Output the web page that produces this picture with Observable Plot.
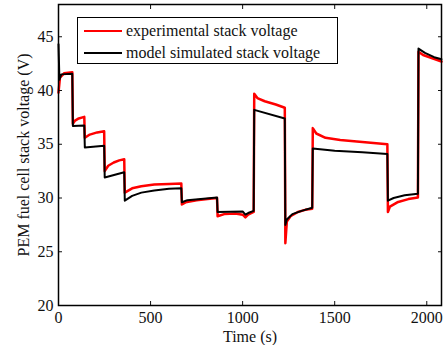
<!DOCTYPE html>
<html>
<head>
<meta charset="utf-8">
<script src="https://cdn.jsdelivr.net/npm/d3@7"></script>
<script src="https://cdn.jsdelivr.net/npm/@observablehq/plot@0.6"></script>
<style>
  html, body { margin: 0; padding: 0; background: #fff; }
  #wrap { position: relative; width: 443px; height: 345px; font-family: "Liberation Serif", "DejaVu Serif", serif; }
  #chart svg, #chart svg text { font-family: "Liberation Serif", "DejaVu Serif", serif !important; }
  #legend { position: absolute; left: 77px; top: 17px; width: 261px; height: 47px; border: 1.5px solid #000; background: #fff; box-sizing: border-box; }
  .row { position: absolute; left: 0; height: 20px; display: flex; align-items: center; font-size: 16px; color: #111; white-space: nowrap; }
  .sw { width: 38px; height: 0; margin-left: 6px; margin-right: 4px; }
</style>
</head>
<body>
<div id="wrap">
  <div id="chart"></div>
  <div id="legend">
    <div class="row" style="top:3px"><span class="sw" style="border-top:2.5px solid #ff0000"></span><span>experimental stack voltage</span></div>
    <div class="row" style="top:25px"><span class="sw" style="border-top:2.5px solid #000"></span><span>model simulated stack voltage</span></div>
  </div>
</div>
<script>
// Experimental stack voltage (red)
const expTime = [0, 8, 30, 75,
  78, 90, 110, 140,
  143, 170, 210, 248,
  251, 270, 300, 330, 357,
  360, 400, 450, 520, 600, 667,
  670, 690, 750, 810, 861,
  864, 900, 960, 1000, 1015, 1030, 1060,
  1063, 1080, 1120, 1180, 1229,
  1232, 1240, 1260, 1300, 1340, 1378,
  1381, 1400, 1450, 1530, 1650, 1786,
  1789, 1800, 1840, 1900, 1952,
  1955, 1980, 2030, 2080];
const expVolt = [39.8, 41.2, 41.6, 41.7,
  36.9, 37.2, 37.4, 37.55,
  35.6, 35.9, 36.1, 36.2,
  32.5, 33.0, 33.3, 33.5, 33.6,
  30.5, 30.9, 31.1, 31.25, 31.3, 31.35,
  29.4, 29.6, 29.8, 29.9, 30.0,
  28.3, 28.5, 28.55, 28.45, 28.2, 28.45, 28.7,
  39.7, 39.3, 39.0, 38.7, 38.4,
  25.8, 27.8, 28.3, 28.7, 28.9, 29.0,
  36.5, 36.0, 35.6, 35.4, 35.2, 35.0,
  28.7, 29.2, 29.6, 29.9, 30.05,
  43.6, 43.3, 43.0, 42.7];

// Model simulated stack voltage (black)
const modTime = [0, 5, 15, 75,
  78, 140,
  143, 248,
  251, 357,
  360, 400, 450, 520, 600, 667,
  670, 700, 861,
  864, 1000, 1015, 1030, 1060,
  1063, 1229,
  1232, 1240, 1270, 1320, 1378,
  1381, 1500, 1650, 1786,
  1789, 1820, 1880, 1952,
  1955, 1990, 2040, 2080];
const modVolt = [44.3, 41.0, 41.5, 41.55,
  36.7, 36.75,
  34.7, 34.86,
  31.9, 32.4,
  29.75, 30.2, 30.5, 30.7, 30.85, 30.9,
  29.6, 29.8, 30.05,
  28.7, 28.75, 28.45, 28.6, 28.8,
  38.2, 37.4,
  27.5, 28.0, 28.5, 28.8, 29.1,
  34.6, 34.4, 34.25, 34.1,
  29.75, 30.0, 30.25, 30.4,
  43.9, 43.5, 43.1, 42.9];

const xTicks = [0, 500, 1000, 1500, 2000];
const yTicks = [20, 25, 30, 35, 40, 45];

const expData = expTime.map((t, i) => ({t, v: expVolt[i]}));
const modData = modTime.map((t, i) => ({t, v: modVolt[i]}));

const chart = Plot.plot({
  width: 443,
  height: 345,
  marginLeft: 58,
  marginRight: 2,
  marginTop: 4,
  marginBottom: 40,
  style: {fontFamily: "Liberation Serif, DejaVu Serif, serif", fontSize: "16px", color: "#111", background: "#fff"},
  x: {domain: [0, 2080]},
  y: {domain: [20, 48]},
  marks: [
    Plot.line(expData, {x: "t", y: "v", stroke: "#ff0000", strokeWidth: 2.5}),
    Plot.line(modData, {x: "t", y: "v", stroke: "#000", strokeWidth: 2}),
    Plot.axisX(xTicks, {anchor: "bottom", tickSize: -4, tickPadding: 10, tickFormat: d3.format("d"), label: "Time (s)", labelAnchor: "center", labelArrow: "none", labelOffset: 36, fontSize: 16}),
    Plot.axisX(xTicks, {anchor: "top", tickSize: -4, tickFormat: () => "", label: null}),
    Plot.axisY(yTicks, {anchor: "left", tickSize: -4, tickPadding: 9, tickFormat: d3.format("d"), label: "PEM fuel cell stack voltage (V)", labelAnchor: "center", labelArrow: "none", labelOffset: 41, fontSize: 16}),
    Plot.axisY(yTicks, {anchor: "right", tickSize: -4, tickFormat: () => "", label: null}),
    Plot.frame({stroke: "#000", strokeWidth: 1.5})
  ]
});
document.getElementById("chart").appendChild(chart);
</script>
</body>
</html>
